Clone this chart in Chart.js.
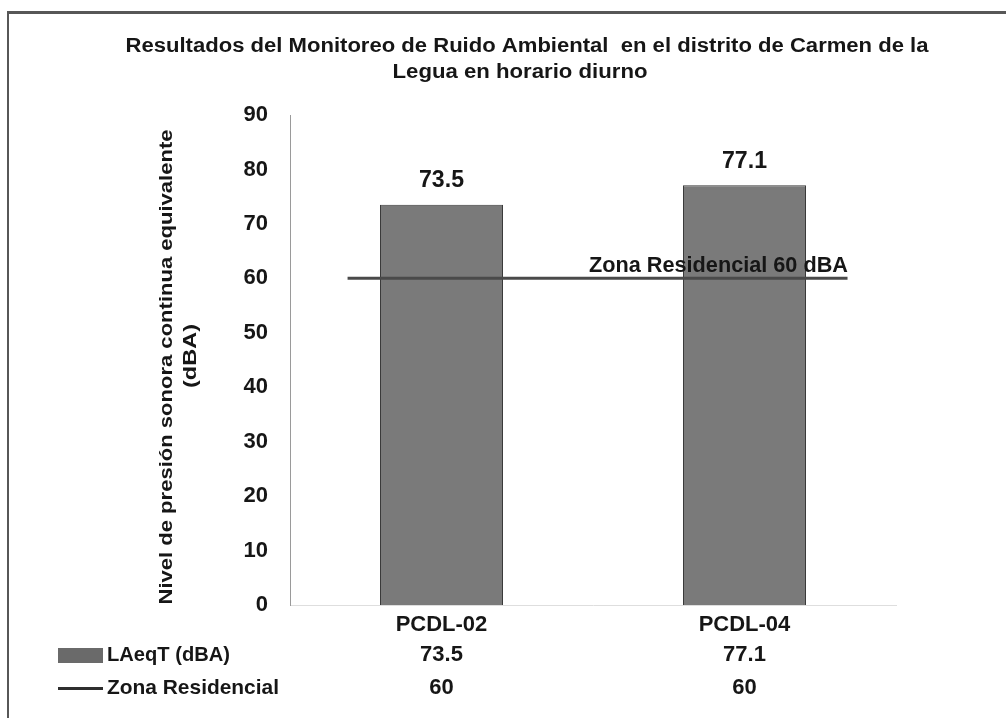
<!DOCTYPE html>
<html lang="es">
<head>
    <meta charset="UTF-8">
    <title>Monitoreo de Ruido Ambiental - Carmen de la Legua</title>
    <style>
        body {
            margin: 0;
            padding: 0;
            background: #ffffff;
        }
        #wrap {
            position: relative;
            width: 1006px;
            height: 718px;
        }
        canvas {
            display: block;
        }
    </style>
</head>
<body>
    <div id="wrap">
        <canvas id="ruidoChart" width="1006" height="718"></canvas>
    </div>

    <script src="https://cdn.jsdelivr.net/npm/chart.js"></script>
    <script>
        // datos
        const puntos = ['PCDL-02', 'PCDL-04'];
        const laeqT = [73.5, 77.1];
        const zonaResidencial = [60, 60];
        const yTicks = [0, 10, 20, 30, 40, 50, 60, 70, 80, 90];

        const titulo = [
            'Resultados del Monitoreo de Ruido Ambiental  en el distrito de Carmen de la',
            'Legua en horario diurno'
        ];
        const tituloEje = ['Nivel de presión sonora continua equivalente', '(dBA)'];
        const serieBarras = 'LAeqT (dBA)';
        const serieLinea = 'Zona Residencial';
        const etiquetaZona = 'Zona Residencial 60 dBA';

        const FONT = '"Liberation Sans", Arial, sans-serif';
        const TEXT = '#161616';

        // texto ajustado a un ancho dado
        function fitText(ctx, text, x, y, width, font, align) {
            ctx.save();
            ctx.font = font;
            const w = ctx.measureText(text).width;
            ctx.translate(x, y);
            ctx.scale(width / w, 1);
            ctx.textAlign = align;
            ctx.textBaseline = 'middle';
            ctx.fillStyle = TEXT;
            ctx.fillText(text, 0, 0);
            ctx.restore();
        }

        const decoracion = {
            id: 'decoracion',
            beforeDraw(chart) {
                const ctx = chart.ctx;
                ctx.save();
                ctx.fillStyle = '#ffffff';
                ctx.fillRect(0, 0, chart.width, chart.height);
                // marco
                ctx.fillStyle = '#575757';
                ctx.fillRect(7, 11, chart.width - 7, 3);
                ctx.fillRect(7, 11, 2, chart.height - 11);
                ctx.restore();

                // titulo
                fitText(ctx, titulo[0], 527, 46, 803, 'bold 20px ' + FONT, 'center');
                fitText(ctx, titulo[1], 520, 72, 255, 'bold 20px ' + FONT, 'center');

                // titulo eje y
                ctx.save();
                ctx.translate(167, 367);
                ctx.rotate(-Math.PI / 2);
                fitText(ctx, tituloEje[0], 0, 0, 475, 'bold 18px ' + FONT, 'center');
                ctx.restore();
                ctx.save();
                ctx.translate(191, 356);
                ctx.rotate(-Math.PI / 2);
                fitText(ctx, tituloEje[1], 0, 0, 64, 'bold 19px ' + FONT, 'center');
                ctx.restore();
            },
            afterDatasetsDraw(chart) {
                const ctx = chart.ctx;
                const x = chart.scales.x;
                const y = chart.scales.y;
                const catW = x.getPixelForValue(1) - x.getPixelForValue(0);

                // linea de zona residencial
                const yz = y.getPixelForValue(zonaResidencial[0]);
                ctx.save();
                ctx.strokeStyle = '#4a4a4a';
                ctx.lineWidth = 3;
                ctx.beginPath();
                ctx.moveTo(x.getPixelForValue(0) - catW * 0.31, yz);
                ctx.lineTo(x.getPixelForValue(puntos.length - 1) + catW * 0.34, yz);
                ctx.stroke();
                ctx.restore();
                fitText(ctx, etiquetaZona, 848, yz - 12, 259, 'bold 22px ' + FONT, 'right');

                // etiquetas de valor sobre las barras
                const meta = chart.getDatasetMeta(0);
                meta.data.forEach((bar, i) => {
                    fitText(ctx, laeqT[i].toFixed(1), bar.x, bar.y - 24, 45, 'bold 23px ' + FONT, 'center');
                });

                // tabla de datos
                ctx.save();
                ctx.fillStyle = '#6a6a6a';
                ctx.fillRect(58, 648, 45, 15);
                ctx.fillStyle = '#2e2e2e';
                ctx.fillRect(58, 687, 45, 3);
                ctx.restore();
                fitText(ctx, serieBarras, 107, 655, 123, 'bold 20px ' + FONT, 'left');
                fitText(ctx, serieLinea, 107, 688, 172, 'bold 21px ' + FONT, 'left');
                ctx.save();
                ctx.font = 'bold 22px ' + FONT;
                ctx.fillStyle = TEXT;
                ctx.textAlign = 'center';
                ctx.textBaseline = 'middle';
                puntos.forEach((p, i) => {
                    const px = x.getPixelForValue(i);
                    ctx.fillText(laeqT[i].toFixed(1), px, 655);
                    ctx.fillText(String(zonaResidencial[i]), px, 688);
                });
                ctx.restore();
            }
        };

        new Chart(document.getElementById('ruidoChart'), {
            data: {
                labels: puntos,
                datasets: [{
                    type: 'bar',
                    label: serieBarras,
                    data: laeqT,
                    backgroundColor: '#7a7a7a',
                    borderColor: '#3a3a3a',
                    borderWidth: 1,
                    barPercentage: 0.406,
                    categoryPercentage: 1
                }]
            },
            options: {
                responsive: false,
                animation: false,
                layout: {
                    padding: { left: 0, top: 115, right: 110, bottom: 0 }
                },
                plugins: {
                    legend: { display: false },
                    title: { display: false },
                    tooltip: { enabled: false }
                },
                scales: {
                    x: {
                        grid: { display: false, drawTicks: false },
                        border: { display: true, color: '#dedede', width: 1 },
                        ticks: {
                            color: TEXT,
                            font: { family: FONT, size: 22, weight: 'bold' },
                            padding: 7
                        },
                        afterFit(scale) { scale.height = 113; }
                    },
                    y: {
                        min: 0,
                        max: 90,
                        grid: { display: false, drawTicks: false },
                        border: { display: true, color: '#9a9a9a', width: 1 },
                        afterBuildTicks(scale) {
                            scale.ticks = yTicks.map(v => ({ value: v }));
                        },
                        ticks: {
                            color: TEXT,
                            font: { family: FONT, size: 22, weight: 'bold' },
                            padding: 22
                        },
                        afterFit(scale) { scale.width = 290; }
                    }
                }
            },
            plugins: [decoracion]
        });
    </script>
</body>
</html>
